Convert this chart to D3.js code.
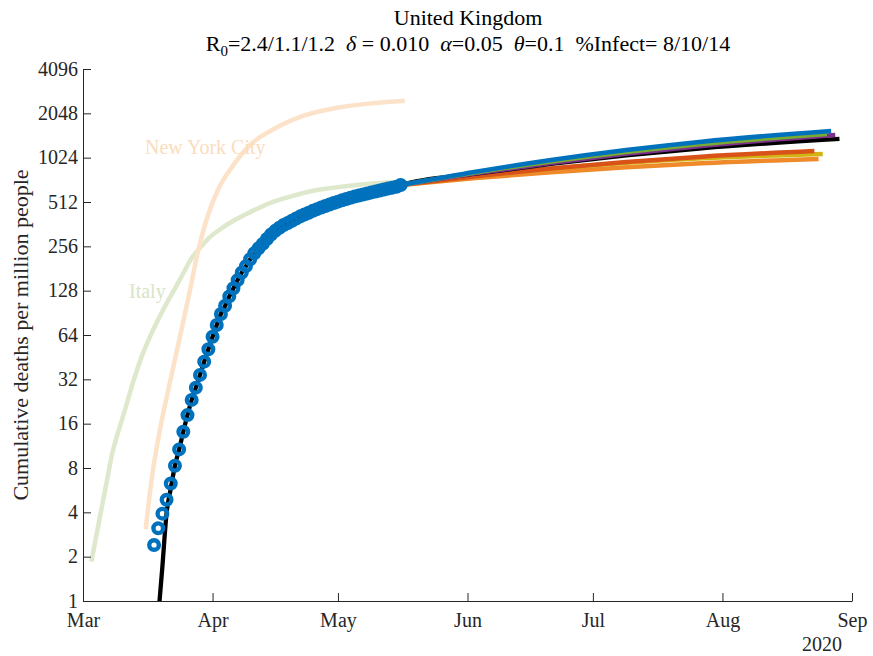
<!DOCTYPE html>
<html>
<head>
<meta charset="utf-8">
<script src="https://cdn.jsdelivr.net/npm/d3@7"></script>
<style>
  html, body { margin: 0; padding: 0; background: #fff; }
  svg { display: block; font-family: "Liberation Serif", "Times New Roman", serif; }
</style>
</head>
<body>
<svg id="chart" width="873" height="656"></svg>
<script>
// ---------- DATA (days counted from 2020-03-01) ----------
const monthTicks = ["2020-03-01","2020-04-01","2020-05-01","2020-06-01","2020-07-01","2020-08-01","2020-09-01"];
const monthLabels = ["Mar","Apr","May","Jun","Jul","Aug","Sep"];
const yTicks = [1,2,4,8,16,32,64,128,256,512,1024,2048,4096];

// UK observed cumulative deaths per million, daily from day 17 (Mar 18) to day 76 (May 16)
const ukStartDay = 17;
const ukDeaths = [2.4,3.12,3.92,4.87,6.28,8.29,10.7,14.1,18.3,23.2,
  28.1,34.3,42.2,51.2,62.3,74.9,88.9,101,117,133,
  151,170,188,209,230,248,266,287,308,326,
  342,357,369,382,396,409,421,433,446,458,
  470,481,492,504,515,526,536,547,557,566,
  576,585,595,604,613,622,632,641,650,668];

// Model fit (black) early part before it meets the data
const modelEarlyDays = [18,19,20,21];
const modelEarlyVals = [0.78,1.72,3.95,5.8];

// Italy (reference curve)
const italyDays = [2,4,6,7,8,10,12,14,16,18,20,22,24,26,28,30,33,36,40,45,50,55,60,65,70,76];
const italyVals = [1.85,3.66,7.2,10.1,12.8,19.7,30.7,45.3,62.2,81.6,105,132,168,213,250,289,337,382,437,507,561,611,641,666,687,700];

// New York City (reference curve)
const nycDays = [15,16.4,18.4,20.4,23.2,25.6,27.5,29.7,32.3,35.6,40,46,53,61.5,69.4,77];
const nycVals = [3.07,6.63,14.5,27.1,62.3,129,235,400,620,880,1250,1620,1980,2250,2400,2497];

// Projection scenarios from day 76
const projDays = {
  orange: [76,94,112,130,148,176],
  yellow: [76,94,112,130,148,177],
  red:    [76,94,112,130,148,175],
  black:  [76,94,112,130,148,181],
  purple: [76,94,112,130,148,180],
  green:  [76,94,112,130,148,178],
  blue:   [76,94,112,130,148,179]
};
const projVals = {
  orange: [668,744,816,881,938,1004],
  yellow: [668,767,861,945,1014,1085],
  red:    [668,767,865,957,1040,1137],
  black:  [668,797,930,1062,1186,1372],
  purple: [668,801,942,1087,1230,1460],
  green:  [668,812,964,1118,1268,1484],
  blue:   [668,822,986,1153,1315,1554]
};
const projColors = {
  orange: "#EE8A2A", yellow: "#D2B414", red: "#D95319", black: "#000000",
  purple: "#7E2F8E", green: "#77AC30", blue: "#0072BD"
};

// ---------- CHART ----------
const svg = d3.select("#chart");
const W = 873, H = 656;
const L = 83, R = 852, T = 69, B = 601;
const day0 = Date.UTC(2020,2,1);
const toDate = d => new Date(day0 + d*86400000);

const x = d3.scaleUtc().domain([new Date("2020-03-01"), new Date("2020-09-01")]).range([L, R]);
const y = d3.scaleLog().base(2).domain([1,4096]).range([B, T]);

svg.append("rect").attr("width", W).attr("height", H).attr("fill", "#fff");

svg.append("defs").append("clipPath").attr("id","clip")
  .append("rect").attr("x", L).attr("y", T - 10).attr("width", R - L + 20).attr("height", B - T + 10);

const line = d3.line().x(d => x(toDate(d[0]))).y(d => y(d[1])).curve(d3.curveMonotoneX);
const plot = svg.append("g").attr("clip-path","url(#clip)");

// reference curves
plot.append("path").datum(italyDays.map((d,i)=>[d,italyVals[i]]))
  .attr("d", line).attr("fill","none").attr("stroke","#DDE8CC").attr("stroke-width",4.5);
plot.append("path").datum(nycDays.map((d,i)=>[d,nycVals[i]]))
  .attr("d", line).attr("fill","none").attr("stroke","#FCE2C8").attr("stroke-width",4.5);

// projections
["orange","yellow","red"].forEach(k => {
  plot.append("path").datum(projDays[k].map((d,i)=>[d,projVals[k][i]]))
    .attr("d", line).attr("fill","none").attr("stroke",projColors[k]).attr("stroke-width",4.5);
});

// black model line
const ukPts = ukDeaths.map((v,i)=>[ukStartDay+i, v]);
const modelPts = modelEarlyDays.map((d,i)=>[d,modelEarlyVals[i]])
  .concat(ukPts.filter(p => p[0] >= 22 && p[0] < 76))
  .concat(projDays.black.map((d,i)=>[d,projVals.black[i]]));
plot.append("path").datum(modelPts).attr("d", line).attr("fill","none")
  .attr("stroke","#000").attr("stroke-width",4.3);

["purple","green","blue"].forEach(k => {
  plot.append("path").datum(projDays[k].map((d,i)=>[d,projVals[k][i]]))
    .attr("d", line).attr("fill","none").attr("stroke",projColors[k]).attr("stroke-width",4.5);
});

// observed circles
plot.selectAll("circle.obs").data(ukPts).join("circle")
  .attr("class","obs")
  .attr("cx", d => x(toDate(d[0]))).attr("cy", d => y(d[1]))
  .attr("r", 4.8).attr("fill","none").attr("stroke","#0072BD").attr("stroke-width",4.4);

// labels on curves
svg.append("text").attr("x",145).attr("y",154).attr("font-size",20).attr("fill","#FBDCBC").text("New York City");
svg.append("text").attr("x",129).attr("y",298).attr("font-size",20).attr("fill","#D8E4C6").text("Italy");

// axes
const fs = 20;
const xAxis = d3.axisBottom(x).tickValues(monthTicks.map(s=>new Date(s)))
  .tickFormat((d,i)=>monthLabels[i]).tickSizeInner(-8).tickSizeOuter(0).tickPadding(12);
const gx = svg.append("g").attr("transform",`translate(0,${B})`).call(xAxis);
const yAxis = d3.axisLeft(y).tickValues(yTicks).tickFormat(d3.format("d"))
  .tickSizeInner(-8).tickSizeOuter(0).tickPadding(5);
const gy = svg.append("g").attr("transform",`translate(${L},0)`).call(yAxis);
[gx,gy].forEach(g => {
  g.selectAll("path.domain").attr("stroke","#262626").attr("stroke-width",1);
  g.selectAll(".tick line").attr("stroke","#262626").attr("stroke-width",1);
  g.selectAll("text").attr("font-size",fs).attr("fill","#262626")
    .attr("font-family",'"Liberation Serif", "Times New Roman", serif');
});
gy.selectAll(".tick text").attr("dy","0.3em");

// year label
svg.append("text").attr("x",842).attr("y",651).attr("text-anchor","end")
  .attr("font-size",fs).attr("fill","#262626").text("2020");

// y label
svg.append("text").attr("transform",`translate(28,${(T+B)/2}) rotate(-90)`)
  .attr("text-anchor","middle").attr("font-size",22).attr("fill","#262626")
  .text("Cumulative deaths per million people");

// title
svg.append("text").attr("x",468).attr("y",25).attr("text-anchor","middle")
  .attr("font-size",22).attr("fill","#000").text("United Kingdom");
const t2 = svg.append("text").attr("x",468).attr("y",51).attr("text-anchor","middle")
  .attr("font-size",22).attr("fill","#000").attr("xml:space","preserve").style("white-space","pre");
t2.append("tspan").text("R");
t2.append("tspan").attr("font-size",15).attr("dy",5).text("0");
t2.append("tspan").attr("dy",-5).text("=2.4/1.1/1.2  ");
t2.append("tspan").attr("font-style","italic").text("δ");
t2.append("tspan").text(" = 0.010  ");
t2.append("tspan").attr("font-style","italic").text("α");
t2.append("tspan").text("=0.05  ");
t2.append("tspan").attr("font-style","italic").text("θ");
t2.append("tspan").text("=0.1  %Infect= 8/10/14");
</script>
</body>
</html>
